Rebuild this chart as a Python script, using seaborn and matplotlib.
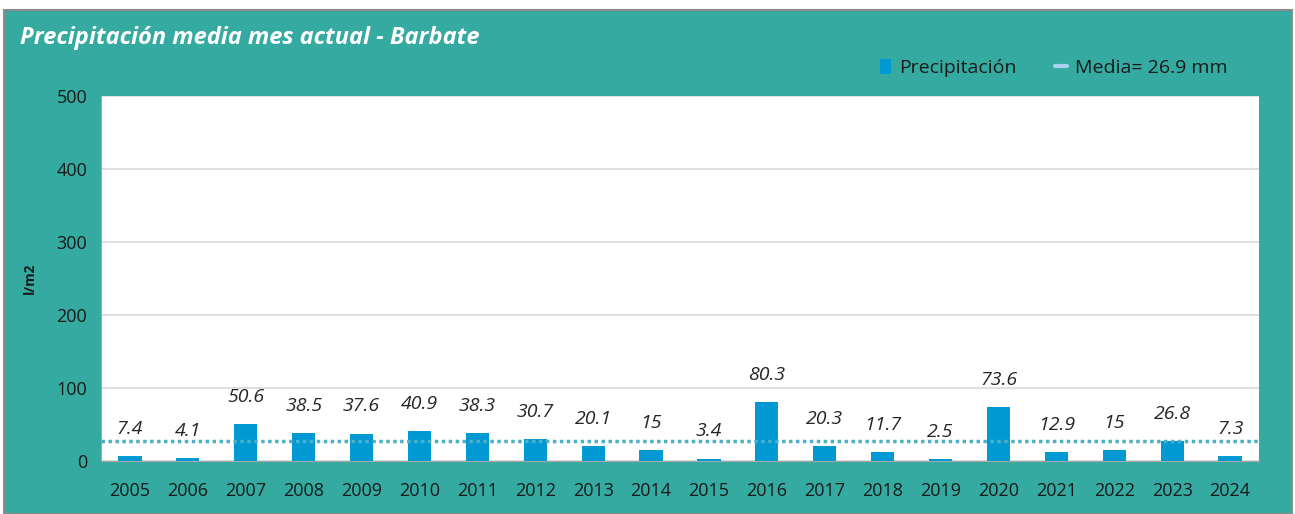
import matplotlib
matplotlib.use('Agg')
import matplotlib.pyplot as plt
from matplotlib.patches import Rectangle
from matplotlib.lines import Line2D
import seaborn as sns
import pandas as pd

# Datos de precipitación del mes actual en Barbate
anios = ['2005', '2006', '2007', '2008', '2009', '2010', '2011', '2012', '2013', '2014',
         '2015', '2016', '2017', '2018', '2019', '2020', '2021', '2022', '2023', '2024']
precipitacion = [7.4, 4.1, 50.6, 38.5, 37.6, 40.9, 38.3, 30.7, 20.1, 15,
                 3.4, 80.3, 20.3, 11.7, 2.5, 73.6, 12.9, 15, 26.8, 7.3]
etiquetas = ['7.4', '4.1', '50.6', '38.5', '37.6', '40.9', '38.3', '30.7', '20.1', '15',
             '3.4', '80.3', '20.3', '11.7', '2.5', '73.6', '12.9', '15', '26.8', '7.3']
media = 26.9

df = pd.DataFrame({'anio': anios, 'precipitacion': precipitacion})

sns.set_style('white')
plt.rcParams['font.family'] = ['Open Sans', 'DejaVu Sans']

teal = '#35AAA1'
azul = '#0199D3'

fig = plt.figure(figsize=(12.95, 5.14), dpi=100)
fig.patch.set_facecolor('white')
fig.patches.append(Rectangle((4 / 1295, 0), 1288 / 1295, 504 / 514, transform=fig.transFigure,
                             facecolor=teal, edgecolor='#8C8C8C', linewidth=1.5, zorder=-1))

ax = fig.add_axes([101 / 1295, 1 - 461 / 514, 1158 / 1295, 365 / 514])
ax.set_facecolor('white')

sns.barplot(data=df, x='anio', y='precipitacion', color=azul, width=0.4,
            saturation=1, ax=ax, zorder=3, edgecolor=azul, linewidth=0)
ax.axhline(media, color='#4BB0C8', linestyle=(0, (1, 1)), linewidth=2.5, zorder=4)

ax.bar_label(ax.containers[0], labels=etiquetas, padding=13, fontsize=14,
             style='italic', color='#262626')

ax.set_ylim(0, 500)
ax.set_yticks(range(0, 501, 100))
ax.set_xlim(-0.5, len(anios) - 0.5)
ax.grid(axis='y', color='#D9D9D9', linewidth=1.2, zorder=0)
ax.set_axisbelow(True)

for lado in ['top', 'right']:
    ax.spines[lado].set_visible(False)
ax.spines['left'].set_color('#A6A6A6')
ax.spines['bottom'].set_color('#A6A6A6')

ax.set_xticks([i - 0.5 for i in range(len(anios) + 1)], minor=True)
ax.tick_params(axis='x', which='major', length=0, labelsize=13, colors='#1a1a1a', pad=15)
ax.tick_params(axis='x', which='minor', length=5, color='#A6A6A6', direction='out')
ax.tick_params(axis='y', length=5, color='#A6A6A6', labelsize=13, colors='#1a1a1a', pad=5)

ax.set_xlabel('')
ax.set_ylabel('l/m2', fontsize=10, fontweight='bold', color='#1a1a1a', labelpad=14)

fig.text(20 / 1295, 1 - 38 / 514, 'Precipitación media mes actual - Barbate', color='white',
         fontsize=17, fontweight='bold', style='italic', va='center')

handles = [Rectangle((0, 0), 1, 1, facecolor=azul, edgecolor='none'),
           Line2D([0], [0], color='#A9D2F2', linewidth=3)]
fig.legend(handles, ['Precipitación', 'Media= 26.9 mm'], loc='center right',
           bbox_to_anchor=(1245 / 1295, 1 - 68 / 514), ncol=2, frameon=False,
           fontsize=14, handlelength=0.6, handleheight=0.8, handletextpad=0.4,
           columnspacing=2.0, labelcolor='#1a1a1a')

fig.savefig('out.png', dpi=100)
